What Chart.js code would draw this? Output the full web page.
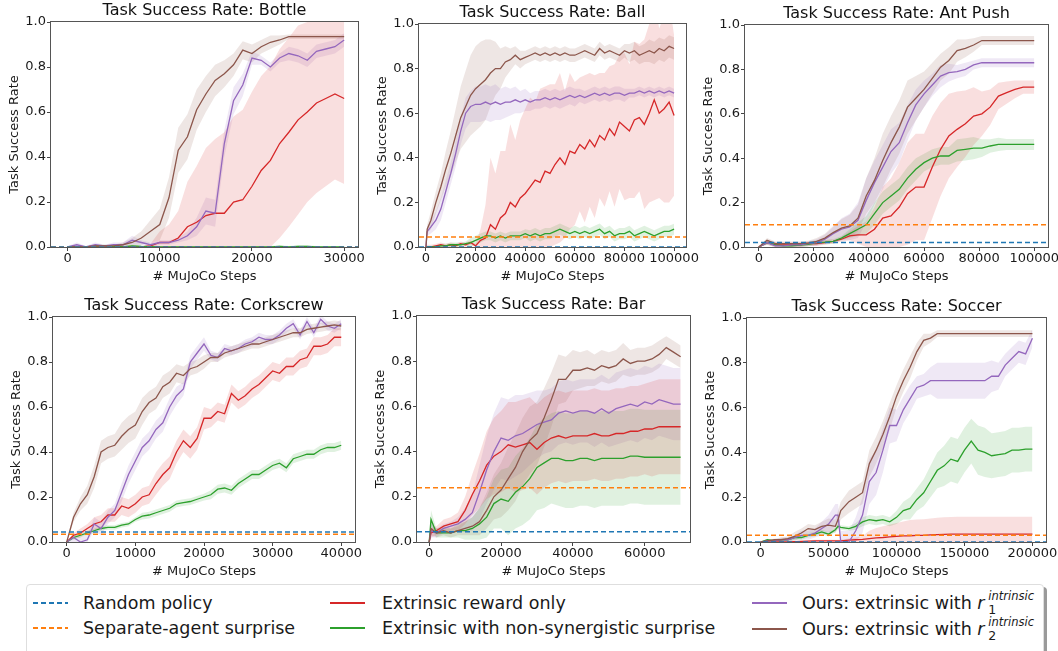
<!DOCTYPE html>
<html>
<head>
<meta charset="utf-8">
<title>Task Success Rate</title>
<script src="https://cdn.jsdelivr.net/npm/chart.js@4.4.1/dist/chart.umd.min.js"></script>
<style>
    body { margin: 0; width: 1058px; height: 651px; overflow: hidden; position: relative; background: #fff; font-family: "DejaVu Sans", sans-serif; }
    canvas { position: absolute; }
    #legend { position: absolute; left: 26px; top: 584px; width: 1016px; height: 90px; border: 1px solid #dedede; border-radius: 4px; box-shadow: 3px 3px 0 #9a9a9a; background: #fff; }
    .sw { position: absolute; width: 35px; height: 2px; }
    .txt { position: absolute; font-size: 17.5px; line-height: 20px; color: #1a1a1a; white-space: nowrap; }
    .rr { position: relative; display: inline-block; }
    .rr .sp { position: absolute; left: 11px; top: -3px; font-size: 11.5px; font-style: italic; line-height: 12px; }
    .rr .sb { position: absolute; left: 11px; top: 10px; font-size: 12.5px; line-height: 13px; }
</style>
</head>
<body>
<div id="legend"></div>
<div class="sw" style="left:33px;top:602px;background:repeating-linear-gradient(90deg,#1f77b4 0 5px,transparent 5px 8px)"></div>
<div class="txt" style="left:83px;top:593px">Random policy</div>
<div class="sw" style="left:33px;top:627px;background:repeating-linear-gradient(90deg,#ff7f0e 0 5px,transparent 5px 8px)"></div>
<div class="txt" style="left:83px;top:618px">Separate-agent surprise</div>
<div class="sw" style="left:330px;top:602px;background:#d62728"></div>
<div class="txt" style="left:382px;top:593px">Extrinsic reward only</div>
<div class="sw" style="left:330px;top:627px;background:#2ca02c"></div>
<div class="txt" style="left:382px;top:618px">Extrinsic with non-synergistic surprise</div>
<div class="sw" style="left:752px;top:602px;background:#9467bd"></div>
<div class="txt" style="left:802px;top:593px">Ours: extrinsic with <span class="rr"><i>r</i><span class="sp">intrinsic</span><span class="sb">1</span></span></div>
<div class="sw" style="left:752px;top:628px;background:#8c564b"></div>
<div class="txt" style="left:802px;top:619px">Ours: extrinsic with <span class="rr"><i>r</i><span class="sp">intrinsic</span><span class="sb">2</span></span></div>

<script>
//Shared y axis
var yTicks = [0, 0.2, 0.4, 0.6, 0.8, 1.0];

//Bottle
var bottleSteps = [0, 1000, 2000, 3000, 4000, 5000, 6000, 7000, 8000, 9000, 10000, 11000, 12000, 13000, 14000, 15000, 16000, 17000, 18000, 19000, 20000, 21000, 22000, 23000, 24000, 25000, 26000, 27000, 28000, 29000, 30000];
var bottleTicks = [0, 10000, 20000, 30000];
var bottleRandom = 0.0;
var bottleSeparate = 0.0;
var bottleRed = [0, 0, 0, 0, 0, 0, 0, 0, 0, 0.005, 0.02, 0.02, 0.04, 0.09, 0.11, 0.14, 0.15, 0.15, 0.2, 0.21, 0.27, 0.34, 0.385, 0.46, 0.51, 0.565, 0.6, 0.64, 0.66, 0.68, 0.66];
var bottleRedSpread = [0, 0, 0, 0, 0, 0, 0, 0, 0, 0.01, 0.05, 0.08, 0.12, 0.2, 0.25, 0.3, 0.33, 0.36, 0.38, 0.4, 0.42, 0.42, 0.42, 0.42, 0.42, 0.42, 0.4, 0.4, 0.39, 0.38, 0.38];
var bottleGreen = [0, 0, 0, 0.005, 0.005, 0.003, 0, 0.005, 0.003, 0.002, 0, 0, 0, 0, 0, 0, 0, 0, 0, 0, 0, 0, 0, 0.003, 0, 0.003, 0.003, 0, 0, 0, 0];
var bottleGreenSpread = [0.005, 0.005, 0.005, 0.005, 0.005, 0.005, 0.005, 0.005, 0.005, 0.005, 0.005, 0.005, 0.005, 0.005, 0.005, 0.005, 0.005, 0.005, 0.005, 0.005, 0.005, 0.005, 0.005, 0.005, 0.005, 0.005, 0.005, 0.005, 0.005, 0.005, 0.005];
var bottlePurple = [0, 0.01, 0, 0.01, 0.005, 0.01, 0.01, 0.03, 0.02, 0.01, 0.02, 0.02, 0.03, 0.05, 0.09, 0.16, 0.15, 0.46, 0.65, 0.72, 0.84, 0.83, 0.8, 0.84, 0.86, 0.85, 0.83, 0.87, 0.88, 0.89, 0.92];
var bottlePurpleSpread = [0.005, 0.01, 0.005, 0.01, 0.005, 0.01, 0.01, 0.02, 0.01, 0.01, 0.01, 0.01, 0.01, 0.02, 0.04, 0.06, 0.06, 0.06, 0.06, 0.05, 0.03, 0.02, 0.02, 0.02, 0.03, 0.03, 0.03, 0.03, 0.03, 0.03, 0.03];
var bottleBrown = [0, 0, 0, 0.005, 0.005, 0.005, 0.01, 0.02, 0.04, 0.07, 0.1, 0.22, 0.43, 0.49, 0.61, 0.68, 0.74, 0.77, 0.81, 0.875, 0.86, 0.89, 0.91, 0.92, 0.935, 0.935, 0.935, 0.935, 0.935, 0.935, 0.935];
var bottleBrownSpread = [0.005, 0.005, 0.005, 0.005, 0.005, 0.005, 0.01, 0.02, 0.03, 0.05, 0.07, 0.09, 0.1, 0.1, 0.09, 0.08, 0.07, 0.06, 0.05, 0.04, 0.04, 0.03, 0.03, 0.02, 0.01, 0.01, 0.01, 0.01, 0.01, 0.01, 0.01];

//Ball
var ballSteps = [0, 500, 2000, 4000, 6000, 8000, 10000, 12000, 14000, 16000, 18000, 20000, 22000, 24000, 26000, 28000, 30000, 32000, 34000, 36000, 38000, 40000, 42000, 44000, 46000, 48000, 50000, 52000, 54000, 56000, 58000, 60000, 62000, 64000, 66000, 68000, 70000, 72000, 74000, 76000, 78000, 80000, 82000, 84000, 86000, 88000, 90000, 92000, 94000, 96000, 98000, 100000];
var ballTicks = [0, 20000, 40000, 60000, 80000, 100000];
var ballRandom = 0.0;
var ballSeparate = 0.045;
var ballRed = [0, 0, 0, 0.005, 0.01, 0.005, 0.01, 0.005, 0.015, 0.01, 0.02, 0.005, 0.03, 0.04, 0.1, 0.08, 0.13, 0.15, 0.2, 0.18, 0.22, 0.24, 0.27, 0.3, 0.29, 0.34, 0.33, 0.37, 0.4, 0.37, 0.43, 0.42, 0.46, 0.44, 0.48, 0.45, 0.5, 0.48, 0.53, 0.5, 0.56, 0.54, 0.52, 0.57, 0.58, 0.55, 0.6, 0.66, 0.6, 0.62, 0.65, 0.59];
var ballRedSpread = [0.01, 0.01, 0.01, 0.01, 0.01, 0.01, 0.01, 0.01, 0.01, 0.01, 0.01, 0.01, 0.05, 0.15, 0.3, 0.25, 0.3, 0.28, 0.35, 0.3, 0.35, 0.38, 0.4, 0.35, 0.42, 0.38, 0.4, 0.36, 0.38, 0.33, 0.35, 0.32, 0.3, 0.33, 0.3, 0.32, 0.28, 0.3, 0.28, 0.32, 0.3, 0.33, 0.3, 0.35, 0.33, 0.38, 0.4, 0.45, 0.38, 0.42, 0.45, 0.36];
var ballGreen = [0, 0, 0, 0, 0.005, 0.005, 0.01, 0.01, 0.01, 0.015, 0.02, 0.03, 0.04, 0.05, 0.05, 0.04, 0.05, 0.04, 0.05, 0.05, 0.05, 0.06, 0.05, 0.06, 0.05, 0.06, 0.06, 0.07, 0.08, 0.07, 0.06, 0.07, 0.06, 0.07, 0.06, 0.07, 0.08, 0.06, 0.07, 0.05, 0.06, 0.06, 0.07, 0.05, 0.06, 0.07, 0.06, 0.05, 0.06, 0.07, 0.07, 0.08];
var ballGreenSpread = [0, 0, 0.005, 0.005, 0.01, 0.01, 0.01, 0.01, 0.01, 0.01, 0.02, 0.02, 0.02, 0.02, 0.02, 0.02, 0.02, 0.02, 0.02, 0.02, 0.02, 0.02, 0.025, 0.025, 0.025, 0.025, 0.025, 0.025, 0.025, 0.025, 0.025, 0.025, 0.025, 0.025, 0.025, 0.025, 0.025, 0.025, 0.025, 0.025, 0.025, 0.025, 0.025, 0.025, 0.025, 0.025, 0.025, 0.025, 0.025, 0.025, 0.025, 0.025];
var ballPurple = [0, 0.07, 0.09, 0.12, 0.17, 0.25, 0.33, 0.42, 0.52, 0.6, 0.63, 0.64, 0.64, 0.65, 0.64, 0.65, 0.64, 0.65, 0.65, 0.66, 0.65, 0.66, 0.65, 0.66, 0.66, 0.67, 0.66, 0.67, 0.66, 0.67, 0.68, 0.67, 0.68, 0.67, 0.68, 0.69, 0.68, 0.69, 0.68, 0.69, 0.69, 0.68, 0.69, 0.69, 0.7, 0.69, 0.7, 0.69, 0.7, 0.69, 0.7, 0.69];
var ballPurpleSpread = [0, 0.02, 0.03, 0.04, 0.05, 0.05, 0.05, 0.06, 0.06, 0.07, 0.07, 0.08, 0.08, 0.08, 0.08, 0.08, 0.07, 0.07, 0.06, 0.06, 0.05, 0.05, 0.04, 0.04, 0.04, 0.04, 0.04, 0.04, 0.04, 0.04, 0.04, 0.04, 0.03, 0.03, 0.03, 0.03, 0.03, 0.03, 0.03, 0.03, 0.03, 0.03, 0.02, 0.02, 0.02, 0.02, 0.02, 0.02, 0.02, 0.02, 0.02, 0.02];
var ballBrown = [0, 0.08, 0.12, 0.2, 0.27, 0.35, 0.42, 0.5, 0.58, 0.63, 0.68, 0.71, 0.73, 0.75, 0.78, 0.8, 0.8, 0.83, 0.84, 0.86, 0.84, 0.85, 0.86, 0.87, 0.86, 0.87, 0.86, 0.87, 0.86, 0.87, 0.86, 0.86, 0.87, 0.88, 0.87, 0.86, 0.89, 0.87, 0.88, 0.87, 0.86, 0.88, 0.87, 0.88, 0.86, 0.87, 0.88, 0.87, 0.89, 0.88, 0.9, 0.89];
var ballBrownSpread = [0, 0.02, 0.04, 0.05, 0.06, 0.08, 0.1, 0.12, 0.14, 0.16, 0.18, 0.19, 0.19, 0.18, 0.15, 0.12, 0.09, 0.07, 0.05, 0.04, 0.04, 0.03, 0.03, 0.03, 0.03, 0.03, 0.03, 0.03, 0.03, 0.03, 0.03, 0.03, 0.03, 0.03, 0.03, 0.03, 0.03, 0.03, 0.03, 0.03, 0.03, 0.03, 0.04, 0.04, 0.04, 0.04, 0.05, 0.05, 0.05, 0.05, 0.05, 0.05];

//Ant Push
var antSteps = [0, 3000, 6000, 9000, 12000, 15000, 18000, 21000, 24000, 27000, 30000, 33000, 36000, 39000, 42000, 45000, 48000, 51000, 54000, 57000, 60000, 63000, 66000, 69000, 72000, 75000, 78000, 81000, 84000, 87000, 90000, 93000, 96000, 99000, 100000];
var antTicks = [0, 20000, 40000, 60000, 80000, 100000];
var antRandom = 0.02;
var antSeparate = 0.10;
var antRed = [0, 0.02, 0.01, 0.01, 0.01, 0.01, 0.015, 0.015, 0.02, 0.025, 0.035, 0.05, 0.055, 0.055, 0.08, 0.13, 0.14, 0.18, 0.24, 0.27, 0.27, 0.36, 0.44, 0.5, 0.53, 0.555, 0.59, 0.6, 0.63, 0.68, 0.695, 0.71, 0.72, 0.72, 0.72];
var antRedSpread = [0, 0.01, 0.01, 0.01, 0.01, 0.01, 0.01, 0.01, 0.01, 0.01, 0.01, 0.02, 0.04, 0.06, 0.1, 0.14, 0.17, 0.2, 0.23, 0.24, 0.24, 0.23, 0.21, 0.19, 0.17, 0.15, 0.13, 0.1, 0.08, 0.06, 0.05, 0.04, 0.03, 0.03, 0.03];
var antGreen = [0, 0.02, 0.01, 0.005, 0.005, 0.008, 0.012, 0.02, 0.022, 0.025, 0.04, 0.06, 0.08, 0.1, 0.15, 0.2, 0.23, 0.26, 0.31, 0.35, 0.38, 0.4, 0.41, 0.41, 0.435, 0.44, 0.445, 0.445, 0.455, 0.462, 0.462, 0.462, 0.462, 0.462, 0.462];
var antGreenSpread = [0, 0.01, 0.01, 0.01, 0.01, 0.01, 0.01, 0.01, 0.01, 0.01, 0.01, 0.02, 0.03, 0.04, 0.05, 0.05, 0.05, 0.05, 0.05, 0.05, 0.04, 0.04, 0.04, 0.04, 0.05, 0.05, 0.05, 0.04, 0.03, 0.03, 0.025, 0.025, 0.025, 0.025, 0.025];
var antPurple = [0, 0.02, 0.005, 0.005, 0.01, 0.01, 0.015, 0.02, 0.035, 0.06, 0.08, 0.09, 0.12, 0.21, 0.29, 0.36, 0.43, 0.47, 0.56, 0.64, 0.69, 0.73, 0.77, 0.785, 0.79, 0.8, 0.82, 0.83, 0.83, 0.83, 0.83, 0.83, 0.83, 0.83, 0.83];
var antPurpleSpread = [0, 0.01, 0.01, 0.01, 0.01, 0.01, 0.01, 0.015, 0.02, 0.03, 0.05, 0.06, 0.08, 0.1, 0.1, 0.1, 0.1, 0.09, 0.08, 0.07, 0.06, 0.05, 0.05, 0.04, 0.03, 0.03, 0.02, 0.02, 0.02, 0.02, 0.02, 0.02, 0.02, 0.02, 0.02];
var antBrown = [0, 0.03, 0.015, 0.015, 0.015, 0.015, 0.018, 0.025, 0.04, 0.065, 0.085, 0.095, 0.13, 0.23, 0.3, 0.39, 0.47, 0.54, 0.63, 0.67, 0.71, 0.76, 0.81, 0.84, 0.885, 0.895, 0.91, 0.93, 0.93, 0.93, 0.93, 0.93, 0.93, 0.93, 0.93];
var antBrownSpread = [0, 0.01, 0.01, 0.01, 0.01, 0.01, 0.01, 0.015, 0.02, 0.03, 0.04, 0.05, 0.06, 0.08, 0.1, 0.12, 0.12, 0.12, 0.12, 0.1, 0.08, 0.07, 0.06, 0.06, 0.05, 0.04, 0.03, 0.02, 0.02, 0.02, 0.02, 0.02, 0.02, 0.02, 0.02];

//Corkscrew
var corkSteps = [0, 1000, 2000, 3000, 4000, 5000, 6000, 7000, 8000, 9000, 10000, 11000, 12000, 13000, 14000, 15000, 16000, 17000, 18000, 19000, 20000, 21000, 22000, 23000, 24000, 25000, 26000, 27000, 28000, 29000, 30000, 31000, 32000, 33000, 34000, 35000, 36000, 37000, 38000, 39000, 40000];
var corkTicks = [0, 10000, 20000, 30000, 40000];
var corkRandom = 0.045;
var corkSeparate = 0.035;
var corkRed = [0, 0.03, 0.04, 0.06, 0.08, 0.09, 0.12, 0.12, 0.16, 0.15, 0.17, 0.2, 0.21, 0.26, 0.3, 0.33, 0.4, 0.45, 0.42, 0.46, 0.55, 0.55, 0.58, 0.57, 0.66, 0.63, 0.65, 0.68, 0.7, 0.73, 0.76, 0.75, 0.78, 0.78, 0.81, 0.82, 0.87, 0.87, 0.88, 0.91, 0.91];
var corkRedSpread = [0, 0.01, 0.02, 0.02, 0.03, 0.03, 0.03, 0.03, 0.04, 0.04, 0.04, 0.04, 0.04, 0.05, 0.05, 0.05, 0.05, 0.05, 0.05, 0.05, 0.05, 0.04, 0.04, 0.04, 0.04, 0.04, 0.04, 0.04, 0.04, 0.04, 0.04, 0.04, 0.04, 0.04, 0.04, 0.04, 0.04, 0.04, 0.04, 0.04, 0.04];
var corkGreen = [0, 0.02, 0.03, 0.04, 0.05, 0.06, 0.065, 0.065, 0.075, 0.08, 0.1, 0.115, 0.12, 0.13, 0.14, 0.15, 0.17, 0.175, 0.18, 0.19, 0.2, 0.21, 0.235, 0.24, 0.23, 0.26, 0.28, 0.3, 0.3, 0.32, 0.34, 0.35, 0.33, 0.37, 0.38, 0.39, 0.39, 0.41, 0.42, 0.42, 0.43];
var corkGreenSpread = [0, 0.01, 0.01, 0.01, 0.01, 0.01, 0.01, 0.01, 0.01, 0.01, 0.01, 0.015, 0.015, 0.015, 0.015, 0.015, 0.015, 0.015, 0.015, 0.015, 0.015, 0.02, 0.02, 0.02, 0.02, 0.02, 0.02, 0.02, 0.02, 0.02, 0.02, 0.02, 0.02, 0.02, 0.02, 0.02, 0.02, 0.02, 0.02, 0.02, 0.02];
var corkPurple = [0, 0.02, 0, 0.01, 0.08, 0.06, 0.11, 0.14, 0.22, 0.3, 0.36, 0.42, 0.45, 0.5, 0.53, 0.6, 0.65, 0.68, 0.8, 0.84, 0.88, 0.83, 0.82, 0.86, 0.85, 0.86, 0.88, 0.89, 0.91, 0.9, 0.9, 0.92, 0.95, 0.97, 0.92, 0.98, 0.93, 0.99, 0.96, 0.95, 0.97];
var corkPurpleSpread = [0, 0.02, 0.02, 0.02, 0.03, 0.03, 0.03, 0.03, 0.04, 0.04, 0.04, 0.04, 0.04, 0.04, 0.04, 0.04, 0.04, 0.03, 0.03, 0.03, 0.03, 0.02, 0.02, 0.02, 0.02, 0.02, 0.02, 0.02, 0.02, 0.02, 0.02, 0.02, 0.02, 0.02, 0.02, 0.02, 0.02, 0.02, 0.02, 0.02, 0.02];
var corkBrown = [0, 0.11, 0.17, 0.21, 0.29, 0.4, 0.42, 0.43, 0.47, 0.5, 0.52, 0.58, 0.62, 0.64, 0.69, 0.71, 0.75, 0.74, 0.77, 0.78, 0.8, 0.82, 0.82, 0.84, 0.85, 0.86, 0.87, 0.88, 0.88, 0.89, 0.9, 0.91, 0.92, 0.93, 0.93, 0.945, 0.95, 0.955, 0.96, 0.965, 0.96];
var corkBrownSpread = [0, 0.02, 0.03, 0.04, 0.05, 0.05, 0.05, 0.05, 0.06, 0.06, 0.06, 0.06, 0.05, 0.05, 0.05, 0.05, 0.04, 0.04, 0.03, 0.03, 0.03, 0.02, 0.02, 0.02, 0.02, 0.02, 0.02, 0.02, 0.02, 0.02, 0.02, 0.02, 0.02, 0.02, 0.02, 0.02, 0.02, 0.02, 0.02, 0.02, 0.02];

//Bar
var barSteps = [0, 500, 2000, 4000, 6000, 8000, 10000, 12000, 14000, 16000, 18000, 20000, 22000, 24000, 26000, 28000, 30000, 32000, 34000, 36000, 38000, 40000, 42000, 44000, 46000, 48000, 50000, 52000, 54000, 56000, 58000, 60000, 62000, 64000, 66000, 68000, 70000];
var barTicks = [0, 20000, 40000, 60000];
var barRandom = 0.045;
var barSeparate = 0.24;
var barRed = [0, 0.04, 0.05, 0.07, 0.08, 0.09, 0.14, 0.21, 0.27, 0.34, 0.38, 0.4, 0.43, 0.42, 0.43, 0.44, 0.41, 0.44, 0.46, 0.47, 0.46, 0.47, 0.47, 0.47, 0.48, 0.47, 0.47, 0.48, 0.48, 0.49, 0.49, 0.5, 0.5, 0.51, 0.51, 0.51, 0.51];
var barRedSpread = [0, 0.02, 0.02, 0.03, 0.03, 0.04, 0.06, 0.09, 0.12, 0.15, 0.17, 0.18, 0.19, 0.2, 0.2, 0.2, 0.2, 0.2, 0.2, 0.2, 0.2, 0.2, 0.2, 0.2, 0.2, 0.2, 0.2, 0.2, 0.2, 0.2, 0.2, 0.2, 0.21, 0.21, 0.21, 0.21, 0.21];
var barGreen = [0, 0.1, 0.04, 0.04, 0.04, 0.05, 0.05, 0.06, 0.08, 0.11, 0.17, 0.19, 0.18, 0.22, 0.245, 0.28, 0.33, 0.35, 0.37, 0.37, 0.36, 0.36, 0.37, 0.37, 0.36, 0.37, 0.37, 0.37, 0.37, 0.38, 0.38, 0.375, 0.375, 0.375, 0.375, 0.375, 0.375];
var barGreenSpread = [0, 0.04, 0.02, 0.02, 0.02, 0.03, 0.04, 0.05, 0.07, 0.09, 0.11, 0.13, 0.15, 0.16, 0.17, 0.18, 0.19, 0.2, 0.2, 0.21, 0.21, 0.21, 0.21, 0.21, 0.21, 0.21, 0.21, 0.21, 0.21, 0.21, 0.21, 0.21, 0.21, 0.21, 0.21, 0.21, 0.21];
var barPurple = [0, 0.05, 0.04, 0.06, 0.07, 0.08, 0.1, 0.13, 0.22, 0.32, 0.4, 0.46, 0.45, 0.47, 0.48, 0.5, 0.52, 0.53, 0.54, 0.57, 0.58, 0.57, 0.58, 0.58, 0.57, 0.59, 0.57, 0.59, 0.6, 0.61, 0.6, 0.62, 0.61, 0.63, 0.62, 0.61, 0.61];
var barPurpleSpread = [0, 0.03, 0.02, 0.02, 0.02, 0.03, 0.05, 0.08, 0.12, 0.15, 0.17, 0.18, 0.18, 0.18, 0.17, 0.16, 0.15, 0.14, 0.14, 0.14, 0.14, 0.14, 0.14, 0.14, 0.15, 0.15, 0.15, 0.16, 0.16, 0.16, 0.16, 0.16, 0.16, 0.16, 0.16, 0.16, 0.16];
var barBrown = [0, 0.06, 0.04, 0.05, 0.04, 0.05, 0.06, 0.07, 0.09, 0.14, 0.2, 0.23, 0.28, 0.33, 0.4, 0.45, 0.48, 0.55, 0.63, 0.72, 0.72, 0.76, 0.76, 0.77, 0.76, 0.78, 0.77, 0.78, 0.81, 0.79, 0.8, 0.8, 0.81, 0.83, 0.86, 0.84, 0.82];
var barBrownSpread = [0, 0.03, 0.02, 0.02, 0.02, 0.02, 0.03, 0.04, 0.06, 0.08, 0.1, 0.12, 0.14, 0.15, 0.15, 0.15, 0.14, 0.13, 0.12, 0.11, 0.1, 0.09, 0.08, 0.08, 0.07, 0.07, 0.07, 0.07, 0.07, 0.06, 0.06, 0.06, 0.06, 0.06, 0.05, 0.05, 0.05];

//Soccer
var soccerSteps = [0, 5000, 10000, 15000, 20000, 25000, 30000, 35000, 40000, 45000, 50000, 55000, 57000, 59000, 65000, 70000, 75000, 80000, 85000, 90000, 95000, 100000, 105000, 110000, 115000, 120000, 125000, 130000, 135000, 140000, 145000, 150000, 155000, 160000, 165000, 170000, 175000, 180000, 185000, 190000, 195000, 200000];
var soccerTicks = [0, 50000, 100000, 150000, 200000];
var soccerRandom = 0.0;
var soccerSeparate = 0.03;
var soccerRed = [0, 0, 0, 0, 0, 0.002, 0.003, 0.004, 0.005, 0.005, 0.005, 0.005, 0.005, 0.005, 0.008, 0.01, 0.012, 0.015, 0.018, 0.02, 0.023, 0.025, 0.027, 0.028, 0.03, 0.03, 0.032, 0.033, 0.034, 0.035, 0.035, 0.035, 0.035, 0.035, 0.035, 0.035, 0.035, 0.035, 0.035, 0.035, 0.035, 0.035];
var soccerRedSpread = [0, 0, 0, 0, 0, 0.002, 0.003, 0.004, 0.005, 0.005, 0.005, 0.005, 0.005, 0.005, 0.008, 0.01, 0.015, 0.035, 0.045, 0.05, 0.055, 0.06, 0.065, 0.07, 0.07, 0.072, 0.073, 0.075, 0.076, 0.077, 0.078, 0.078, 0.078, 0.078, 0.078, 0.078, 0.078, 0.078, 0.078, 0.078, 0.078, 0.078];
var soccerGreen = [0, 0.01, 0.005, 0.01, 0.01, 0.02, 0.02, 0.03, 0.035, 0.045, 0.035, 0.055, 0.07, 0.065, 0.06, 0.07, 0.09, 0.1, 0.095, 0.1, 0.09, 0.11, 0.14, 0.15, 0.19, 0.22, 0.27, 0.32, 0.34, 0.37, 0.36, 0.41, 0.45, 0.41, 0.4, 0.385, 0.39, 0.395, 0.41, 0.41, 0.415, 0.415];
var soccerGreenSpread = [0, 0.005, 0.005, 0.005, 0.005, 0.01, 0.01, 0.01, 0.01, 0.01, 0.01, 0.01, 0.01, 0.01, 0.01, 0.015, 0.02, 0.02, 0.02, 0.02, 0.02, 0.03, 0.04, 0.05, 0.05, 0.06, 0.07, 0.08, 0.09, 0.1, 0.1, 0.1, 0.1, 0.11, 0.11, 0.1, 0.1, 0.1, 0.1, 0.1, 0.1, 0.1];
var soccerPurple = [0, 0.005, 0.005, 0.01, 0.01, 0.02, 0.03, 0.03, 0.04, 0.06, 0.08, 0.12, 0.12, 0, 0, 0.05, 0.12, 0.27, 0.31, 0.41, 0.52, 0.52, 0.59, 0.64, 0.69, 0.7, 0.72, 0.72, 0.72, 0.72, 0.72, 0.72, 0.72, 0.72, 0.72, 0.74, 0.74, 0.79, 0.82, 0.85, 0.84, 0.91];
var soccerPurpleSpread = [0, 0.005, 0.005, 0.01, 0.01, 0.01, 0.02, 0.02, 0.02, 0.03, 0.04, 0.05, 0.05, 0.05, 0.05, 0.06, 0.08, 0.1, 0.1, 0.1, 0.08, 0.07, 0.06, 0.06, 0.05, 0.05, 0.06, 0.08, 0.08, 0.08, 0.08, 0.08, 0.08, 0.08, 0.08, 0.07, 0.06, 0.05, 0.05, 0.05, 0.05, 0.04];
var soccerBrown = [0, 0.005, 0.01, 0.01, 0.015, 0.025, 0.04, 0.06, 0.055, 0.07, 0.075, 0.07, 0.1, 0.14, 0.18, 0.2, 0.22, 0.35, 0.41, 0.48, 0.56, 0.65, 0.72, 0.78, 0.85, 0.9, 0.91, 0.93, 0.93, 0.93, 0.93, 0.93, 0.93, 0.93, 0.93, 0.93, 0.93, 0.93, 0.93, 0.93, 0.93, 0.93];
var soccerBrownSpread = [0, 0.005, 0.005, 0.01, 0.01, 0.02, 0.02, 0.02, 0.02, 0.02, 0.03, 0.03, 0.04, 0.04, 0.05, 0.05, 0.05, 0.06, 0.06, 0.06, 0.06, 0.05, 0.05, 0.05, 0.04, 0.03, 0.02, 0.015, 0.015, 0.015, 0.015, 0.015, 0.015, 0.015, 0.015, 0.015, 0.015, 0.015, 0.015, 0.015, 0.015, 0.015];

var seriesColors = {
    random: '#1f77b4',
    separate: '#ff7f0e',
    red: '#d62728',
    green: '#2ca02c',
    purple: '#9467bd',
    brown: '#8c564b'
};

var SuccessPlots =
{
    panels: [
        {title: 'Task Success Rate: Bottle', steps: bottleSteps, ticks: bottleTicks, xMin: -1800, xMax: 31500,
         random: bottleRandom, separate: bottleSeparate,
         red: [bottleRed, bottleRedSpread], green: [bottleGreen, bottleGreenSpread],
         purple: [bottlePurple, bottlePurpleSpread], brown: [bottleBrown, bottleBrownSpread],
         box: {left: 51, top: 22, right: 358, bottom: 247}},
        {title: 'Task Success Rate: Ball', steps: ballSteps, ticks: ballTicks, xMin: -2800, xMax: 104800,
         random: ballRandom, separate: ballSeparate,
         red: [ballRed, ballRedSpread], green: [ballGreen, ballGreenSpread],
         purple: [ballPurple, ballPurpleSpread], brown: [ballBrown, ballBrownSpread],
         box: {left: 419, top: 24, right: 686, bottom: 247}},
        {title: 'Task Success Rate: Ant Push', steps: antSteps, ticks: antTicks, xMin: -5000, xMax: 105000,
         random: antRandom, separate: antSeparate,
         red: [antRed, antRedSpread], green: [antGreen, antGreenSpread],
         purple: [antPurple, antPurpleSpread], brown: [antBrown, antBrownSpread],
         box: {left: 745, top: 25, right: 1048, bottom: 247}},
        {title: 'Task Success Rate: Corkscrew', steps: corkSteps, ticks: corkTicks, xMin: -2000, xMax: 42000,
         random: corkRandom, separate: corkSeparate,
         red: [corkRed, corkRedSpread], green: [corkGreen, corkGreenSpread],
         purple: [corkPurple, corkPurpleSpread], brown: [corkBrown, corkBrownSpread],
         box: {left: 53, top: 317, right: 355, bottom: 542}},
        {title: 'Task Success Rate: Bar', steps: barSteps, ticks: barTicks, xMin: -3400, xMax: 72600,
         random: barRandom, separate: barSeparate,
         red: [barRed, barRedSpread], green: [barGreen, barGreenSpread],
         purple: [barPurple, barPurpleSpread], brown: [barBrown, barBrownSpread],
         box: {left: 417, top: 316, right: 690, bottom: 542}},
        {title: 'Task Success Rate: Soccer', steps: soccerSteps, ticks: soccerTicks, xMin: -10000, xMax: 210000,
         random: soccerRandom, separate: soccerSeparate,
         red: [soccerRed, soccerRedSpread], green: [soccerGreen, soccerGreenSpread],
         purple: [soccerPurple, soccerPurpleSpread], brown: [soccerBrown, soccerBrownSpread],
         box: {left: 747, top: 318, right: 1046, bottom: 542}}
    ],

    init: function()
    {
        Chart.defaults.font.family = "'DejaVu Sans', sans-serif";
        Chart.defaults.color = '#1a1a1a';

        //Draw every panel
        SuccessPlots.panels.forEach(function(panel){
            SuccessPlots.drawPanel(panel);
        });
    },

    toRgba: function(hex, alpha)
    {
        var n = parseInt(hex.slice(1), 16);
        return 'rgba(' + (n >> 16) + ',' + ((n >> 8) & 255) + ',' + (n & 255) + ',' + alpha + ')';
    },

    drawPanel: function(p)
    {
        var yAxisW = 44, xAxisH = 37, titleH = 24, padR = 32;

        var canvas = document.createElement('canvas');
        canvas.width = p.box.right - p.box.left + yAxisW + padR;
        canvas.height = p.box.bottom - p.box.top + titleH + xAxisH;
        canvas.style.left = (p.box.left - yAxisW) + 'px';
        canvas.style.top = (p.box.top - titleH) + 'px';
        document.body.appendChild(canvas);

        var datasets = [];
        var lineOrder = {brown: 1, purple: 2, green: 3, red: 4};

        //Shaded bands: upper edge then lower edge filled back to it
        ['red', 'green', 'purple', 'brown'].forEach(function(name){
            var mean = p[name][0], spread = p[name][1];
            datasets.push({
                data: p.steps.map(function(x, i){ return {x: x, y: mean[i] + spread[i]}; }),
                borderColor: 'transparent', borderWidth: 0, pointRadius: 0, fill: false, order: 10
            });
            datasets.push({
                data: p.steps.map(function(x, i){ return {x: x, y: Math.max(0, mean[i] - spread[i])}; }),
                borderColor: 'transparent', borderWidth: 0, pointRadius: 0,
                fill: '-1', backgroundColor: SuccessPlots.toRgba(seriesColors[name], 0.15), order: 10
            });
        });

        //Mean curves
        ['red', 'green', 'purple', 'brown'].forEach(function(name){
            var mean = p[name][0];
            datasets.push({
                data: p.steps.map(function(x, i){ return {x: x, y: mean[i]}; }),
                borderColor: seriesColors[name], borderWidth: 1.3, pointRadius: 0, fill: false,
                order: lineOrder[name]
            });
        });

        //Baselines across the whole axis
        ['random', 'separate'].forEach(function(name){
            datasets.push({
                data: [{x: p.xMin, y: p[name]}, {x: p.xMax, y: p[name]}],
                borderColor: seriesColors[name], borderWidth: 1.5, borderDash: [5, 3],
                pointRadius: 0, fill: false, order: 0
            });
        });

        var axisFont = {size: 13};
        var gridOpts = {drawOnChartArea: false, drawTicks: true, tickLength: 4, color: '#444'};

        new Chart(canvas, {
            type: 'line',
            data: {datasets: datasets},
            options: {
                responsive: false,
                animation: false,
                devicePixelRatio: 1,
                events: [],
                layout: {padding: {left: 0, right: padR, top: 0, bottom: 0}},
                elements: {line: {tension: 0}},
                plugins: {
                    legend: {display: false},
                    tooltip: {enabled: false},
                    filler: {drawTime: 'beforeDatasetsDraw'},
                    title: {
                        display: true, text: p.title, fullSize: false, color: '#111',
                        font: {size: 16, weight: 'normal', lineHeight: 1.125}, padding: {top: 4, bottom: 2}
                    }
                },
                scales: {
                    x: {
                        type: 'linear', min: p.xMin, max: p.xMax,
                        afterBuildTicks: function(axis){
                            axis.ticks = p.ticks.map(function(v){ return {value: v}; });
                        },
                        afterFit: function(axis){
                            axis.height = xAxisH;
                            axis.paddingLeft = 0;
                            axis.paddingRight = 0;
                        },
                        grid: gridOpts,
                        border: {display: false},
                        ticks: {
                            font: axisFont, padding: 0, maxRotation: 0, autoSkip: false,
                            callback: function(v){ return String(v); }
                        },
                        title: {display: true, text: '# MuJoCo Steps', font: axisFont, padding: 0}
                    },
                    y: {
                        min: 0, max: 1,
                        afterBuildTicks: function(axis){
                            axis.ticks = yTicks.map(function(v){ return {value: v}; });
                        },
                        afterFit: function(axis){
                            axis.width = yAxisW;
                            axis.paddingTop = 0;
                            axis.paddingBottom = 0;
                        },
                        grid: gridOpts,
                        border: {display: false},
                        ticks: {
                            font: axisFont, padding: 1,
                            callback: function(v){ return v.toFixed(1); }
                        },
                        title: {display: true, text: 'Task Success Rate', font: axisFont, padding: 0}
                    }
                }
            },
            plugins: [{
                id: 'frame',
                afterDatasetsDraw: function(chart)
                {
                    var a = chart.chartArea, ctx = chart.ctx;
                    ctx.save();
                    ctx.strokeStyle = '#555';
                    ctx.lineWidth = 1;
                    ctx.strokeRect(Math.round(a.left) - 0.5, Math.round(a.top) - 0.5,
                        Math.round(a.right - a.left) + 1, Math.round(a.bottom - a.top) + 1);
                    ctx.restore();
                }
            }]
        });
    }
}
SuccessPlots.init();
</script>
</body>
</html>
